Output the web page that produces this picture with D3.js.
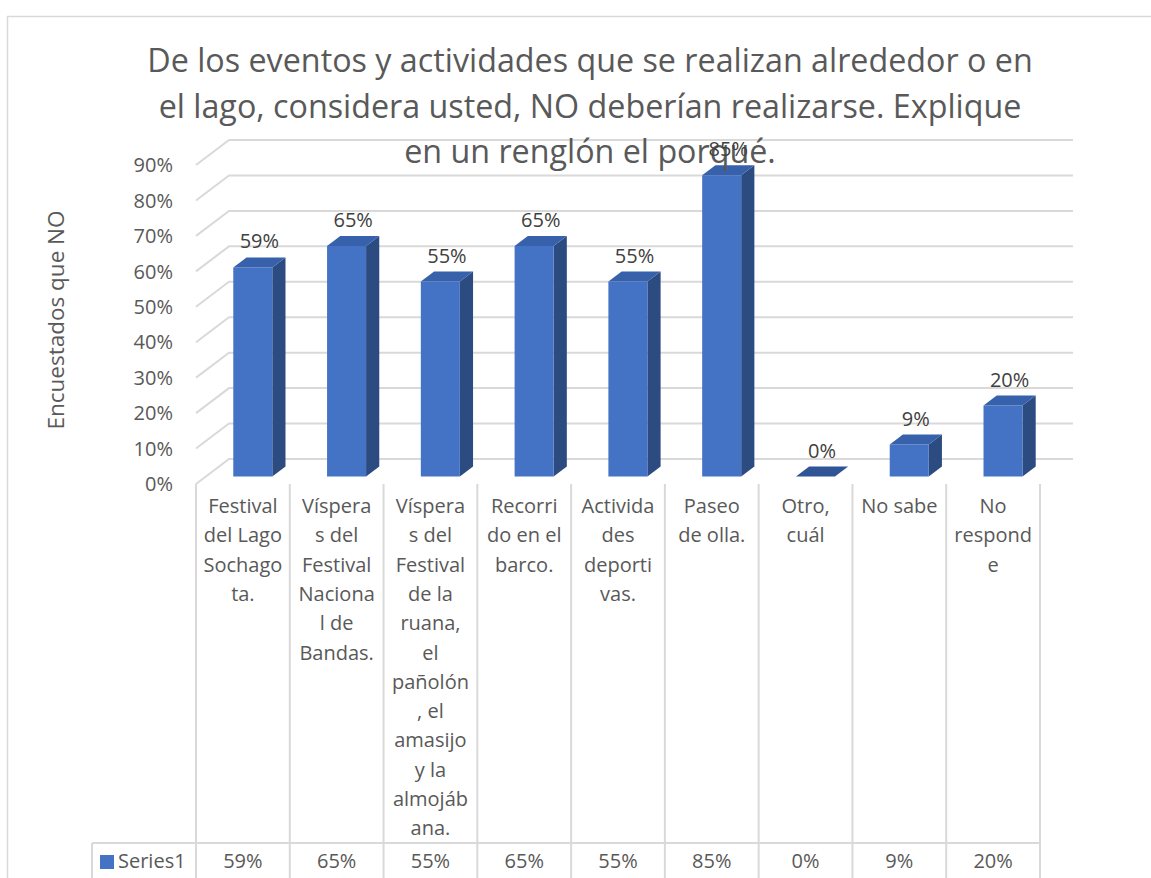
<!DOCTYPE html>
<html>
<head>
<meta charset="utf-8">
<script src="https://cdn.jsdelivr.net/npm/d3@7"></script>
<style>
  html, body { margin: 0; padding: 0; background: #fff; }
  svg { display: block; }
  text { font-family: "Open Sans", "Noto Sans", sans-serif; }
</style>
</head>
<body>
<svg id="chart" width="1151" height="878"></svg>
<script>
// ---- data ----
const categories = [
  ["Festival","del Lago","Sochago","ta."],
  ["Víspera","s del","Festival","Naciona","l de","Bandas."],
  ["Víspera","s del","Festival","de la","ruana,","el","pañolón",", el","amasijo","y la","almojáb","ana."],
  ["Recorri","do en el","barco."],
  ["Activida","des","deporti","vas."],
  ["Paseo","de olla."],
  ["Otro,","cuál"],
  ["No sabe"],
  ["No","respond","e"]
];
const values = [59, 65, 55, 65, 55, 85, 0, 9, 20];
const seriesName = "Series1";
const yTicks = [0, 10, 20, 30, 40, 50, 60, 70, 80, 90];
const titleLines = [
  "De los eventos y actividades que se realizan alrededor o en",
  "el lago, considera usted, NO deberían realizarse. Explique",
  "en un renglón el porqué."
];
const yAxisTitle = "Encuestados que NO";

// ---- layout ----
const svg = d3.select("#chart");
const grid = "#d9d9d9";
const txt = "#595959";
const DX = 33, DY = -25;      // full depth offset
const z0 = 0.3, z1 = 0.7;     // bar depth range
const left = 196, right = 1040;
const y = d3.scaleLinear().domain([0, 90]).range([484, 165]);
const pad = 0.584;
const x = d3.scaleBand().domain(d3.range(categories.length)).range([left, right])
  .paddingInner(pad).paddingOuter(pad / 2);
const step = x.step();

// outer border
svg.append("path").attr("d", "M7.5,878 L7.5,16.5 L1151,16.5")
  .attr("fill", "none").attr("stroke", grid).attr("stroke-width", 1.5);

// gridlines: left wall diagonals + back wall horizontals
const gG = svg.append("g").attr("stroke", grid).attr("stroke-width", 2).attr("fill", "none");
yTicks.forEach(t => {
  const yy = y(t);
  gG.append("path").attr("d", `M${left},${yy} L${left + DX},${yy + DY} L${right + DX},${yy + DY}`);
});

// y tick labels
svg.append("g").selectAll("text").data(yTicks).join("text")
  .attr("x", 173).attr("y", d => y(d)).attr("dy", "0.36em")
  .attr("text-anchor", "end").attr("fill", txt).attr("font-size", 20)
  .text(d => d + "%");

// axis title
svg.append("text")
  .attr("transform", "translate(64,320) rotate(-90)")
  .attr("text-anchor", "middle").attr("fill", txt).attr("font-size", 22.5)
  .text(yAxisTitle);

// bars
const cFront = "#4472c4", cSide = "#2c4b80", cTop = "#3761ab";
const bars = svg.append("g");
values.forEach((v, i) => {
  const bx = x(i), bw = x.bandwidth();
  const yt = y(v), yb = y(0);
  const pt = (px, py, z) => [px + z * DX, py + z * DY];
  const poly = pts => "M" + pts.map(p => p.join(",")).join("L") + "Z";
  // side
  bars.append("path").attr("fill", cSide).attr("d", poly([
    pt(bx + bw, yt, z0), pt(bx + bw, yt, z1), pt(bx + bw, yb, z1), pt(bx + bw, yb, z0)]));
  // front
  if (v > 0) bars.append("path").attr("fill", cFront).attr("d", poly([
    pt(bx, yt, z0), pt(bx + bw, yt, z0), pt(bx + bw, yb, z0), pt(bx, yb, z0)]));
  // top
  bars.append("path").attr("fill", v > 0 ? cTop : "#2f5597").attr("d", poly([
    pt(bx, yt, z0), pt(bx + bw, yt, z0), pt(bx + bw, yt, z1), pt(bx, yt, z1)]));
});

// title
const tG = svg.append("g");
const tTexts = tG.selectAll("text").data(titleLines).join("text")
  .attr("x", 590).attr("y", (d, i) => 72 + i * 45.5)
  .attr("text-anchor", "middle").attr("fill", txt).attr("font-size", 33)
  .text(d => d);
const w0 = tTexts.node().getComputedTextLength();
const fs = Math.max(28, Math.min(36, 33 * 886 / w0));
tTexts.attr("font-size", fs);

// data labels (drawn over the title, as in the original)
svg.append("g").selectAll("text").data(values).join("text")
  .attr("x", (d, i) => x(i) + x.bandwidth() / 2 + (z0 + z1) / 2 * DX)
  .attr("y", d => y(d) + z1 * DY - 9)
  .attr("text-anchor", "middle").attr("fill", "#404040").attr("font-size", 20)
  .text(d => d + "%");

// data table: category labels
const tableTop = 484, rowTop = 843;
const tbl = svg.append("g").attr("stroke", grid).attr("stroke-width", 2);
d3.range(categories.length + 1).forEach(k => {
  const xx = left + k * step;
  tbl.append("line").attr("x1", xx).attr("x2", xx).attr("y1", tableTop).attr("y2", 878);
});
tbl.append("line").attr("x1", 92).attr("x2", 92).attr("y1", rowTop).attr("y2", 878);
tbl.append("line").attr("x1", 92).attr("x2", right).attr("y1", rowTop).attr("y2", rowTop);

const catG = svg.append("g");
categories.forEach((lines, i) => {
  const cx = left + (i + 0.5) * step;
  catG.append("text").attr("text-anchor", "middle").attr("fill", txt).attr("font-size", 20)
    .selectAll("tspan").data(lines).join("tspan")
    .attr("x", cx).attr("y", (d, j) => 513 + j * 29.3).text(d => d);
});

// data row
svg.append("rect").attr("x", 100).attr("y", 855).attr("width", 14).attr("height", 14).attr("fill", cFront);
svg.append("text").attr("x", 118).attr("y", 868).attr("fill", txt).attr("font-size", 20).text(seriesName);
svg.append("g").selectAll("text").data(values).join("text")
  .attr("x", (d, i) => left + (i + 0.5) * step).attr("y", 868)
  .attr("text-anchor", "middle").attr("fill", txt).attr("font-size", 20)
  .text(d => d + "%");
</script>
</body>
</html>
